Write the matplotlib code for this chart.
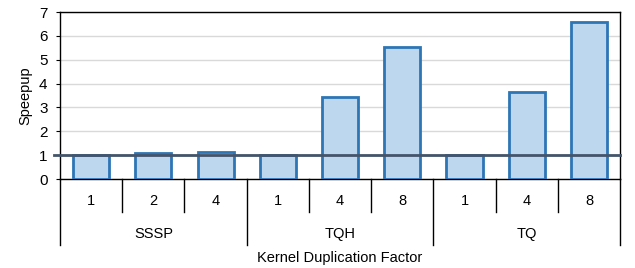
import matplotlib.pyplot as plt
from matplotlib.transforms import blended_transform_factory

plt.rcParams['font.family'] = ['Liberation Sans', 'DejaVu Sans']

groups = ['SSSP', 'TQH', 'TQ']
factors = [['1', '2', '4'], ['1', '4', '8'], ['1', '4', '8']]
speedups = [[1.0, 1.1, 1.15], [1.0, 3.45, 5.55], [1.0, 3.65, 6.6]]

fig = plt.figure(figsize=(6.35, 2.68), dpi=100)
ax = fig.add_axes([0.0945, 0.332, 0.882, 0.623])

labels = [f for fs in factors for f in fs]
values = [v for vs in speedups for v in vs]
xs = list(range(len(values)))

ax.bar(xs, values, width=0.58, color='#BDD7EE', edgecolor='#2E75B6', linewidth=2, zorder=3)

# baseline at speedup 1
ax.axhline(1, color='#44546A', linewidth=2, zorder=4, xmin=-0.01, clip_on=False)

ax.set_xlim(-0.5, len(values) - 0.5)
ax.set_ylim(0, 7)
ax.set_yticks(range(0, 8))
ax.yaxis.grid(True, color='#D9D9D9', linewidth=1, zorder=0)
ax.tick_params(axis='y', labelsize=11, length=3, pad=6)
ax.set_xticks([])
for s in ax.spines.values():
    s.set_color('black')
    s.set_linewidth(1)

ax.set_ylabel('Speepup', fontsize=10.5, labelpad=5)

# two-level category axis
trans = blended_transform_factory(ax.transData, ax.transAxes)
for x, lab in zip(xs, labels):
    ax.text(x, -0.13, lab, transform=trans, ha='center', va='center', fontsize=10.5)
for i in range(len(values) + 1):
    xb = i - 0.5
    depth = -0.395 if i % 3 == 0 else -0.198
    ax.plot([xb, xb], [0, depth], transform=trans, color='black', linewidth=1, clip_on=False)
for g, name in enumerate(groups):
    ax.text(3 * g + 1, -0.33, name, transform=trans, ha='center', va='center', fontsize=10.5)

ax.text(0.5, -0.475, 'Kernel Duplication Factor', transform=ax.transAxes,
        ha='center', va='center', fontsize=10.5)

fig.savefig('out.png', dpi=100)
